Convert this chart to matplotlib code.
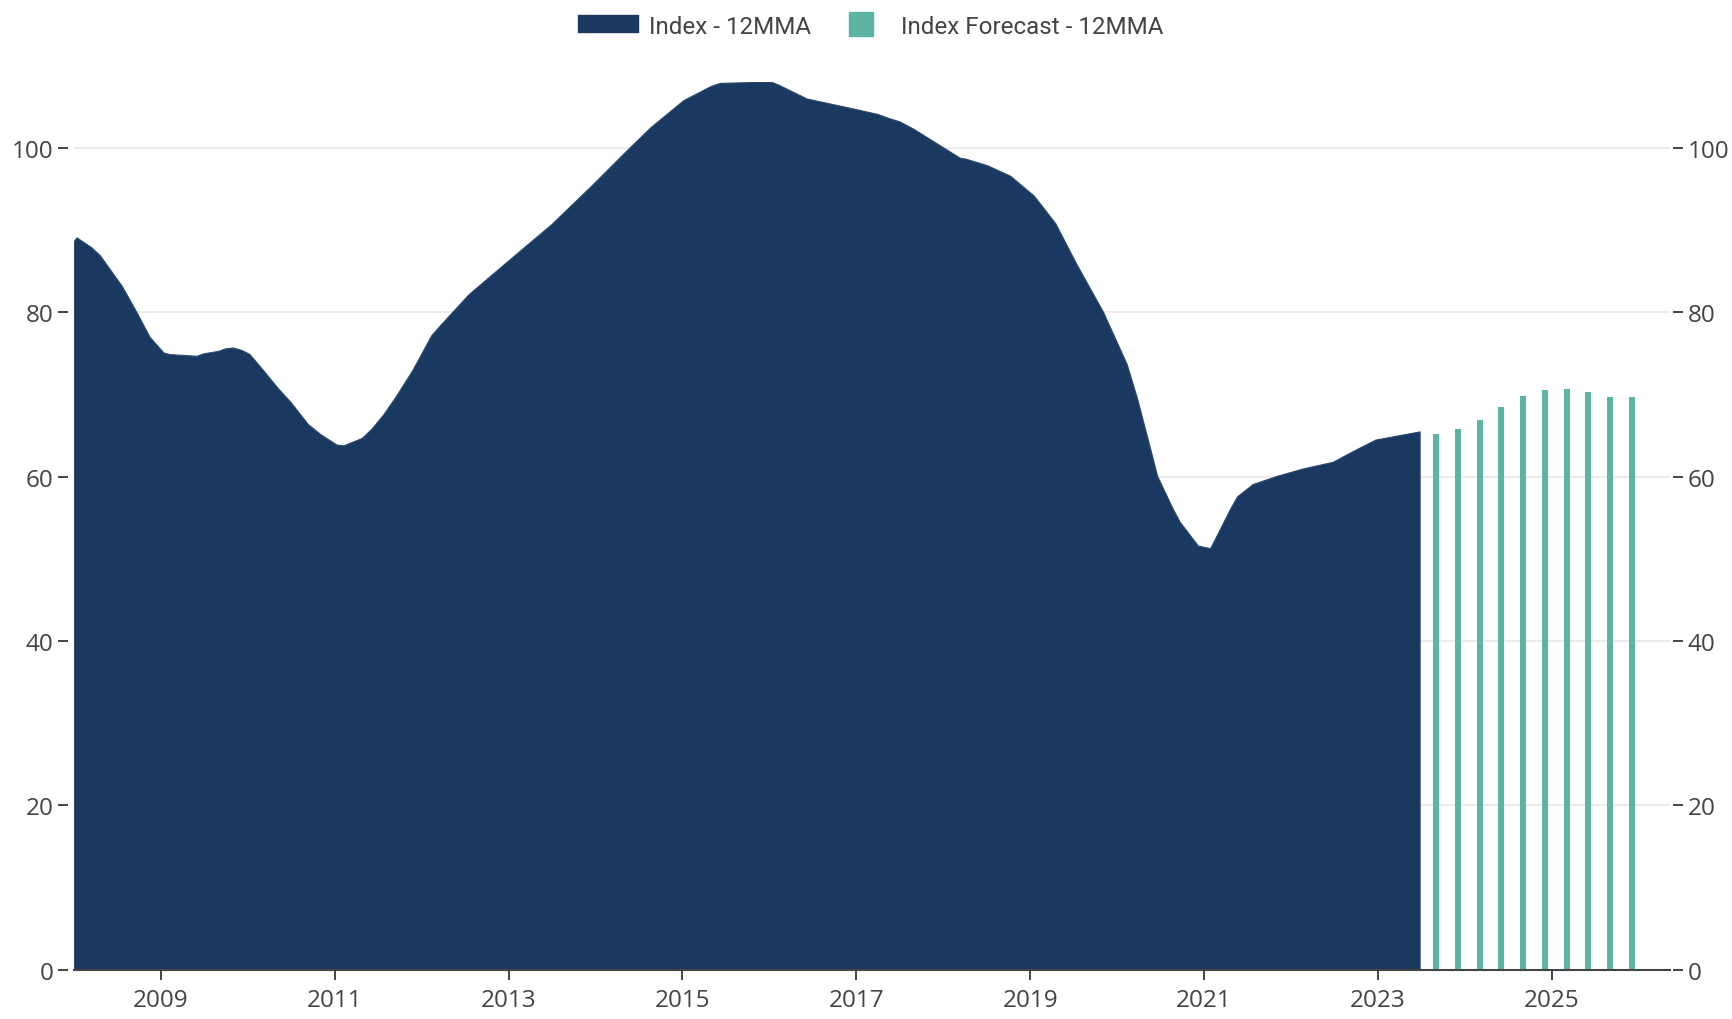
import numpy as np
import matplotlib.pyplot as plt
from matplotlib.patches import Rectangle

# 12-month moving average of the index (decimal years)
index_years = [
    2008.00, 2008.03, 2008.20, 2008.30, 2008.55, 2008.72, 2008.87, 2009.03,
    2009.10, 2009.41, 2009.49, 2009.66, 2009.74, 2009.83, 2009.93, 2010.02,
    2010.18, 2010.35, 2010.49, 2010.69, 2010.83, 2011.02, 2011.10, 2011.31,
    2011.42, 2011.56, 2011.71, 2011.90, 2012.11, 2012.21, 2012.54, 2013.13,
    2013.49, 2013.97, 2014.32, 2014.63, 2015.01, 2015.32, 2015.43, 2015.78,
    2016.03, 2016.10, 2016.43, 2017.00, 2017.25, 2017.35, 2017.50, 2017.66,
    2018.19, 2018.25, 2018.50, 2018.77, 2019.04, 2019.13, 2019.29, 2019.53,
    2019.84, 2019.96, 2020.11, 2020.23, 2020.38, 2020.46, 2020.63, 2020.72,
    2020.93, 2021.07, 2021.10, 2021.30, 2021.38, 2021.56, 2021.84, 2022.14,
    2022.48, 2022.71, 2022.97, 2023.48,
]
index_values = [
    88.7, 89.1, 87.9, 86.9, 83.2, 80.0, 77.0, 75.1,
    74.9, 74.7, 75.0, 75.3, 75.6, 75.7, 75.4, 74.9,
    72.9, 70.7, 69.1, 66.4, 65.2, 63.9, 63.8, 64.7,
    65.8, 67.6, 69.9, 73.1, 77.2, 78.4, 82.2, 87.5,
    90.7, 95.6, 99.3, 102.5, 105.8, 107.5, 107.9, 108.0,
    108.0, 107.7, 106.0, 104.7, 104.1, 103.7, 103.2, 102.3,
    98.8, 98.7, 97.9, 96.6, 94.2, 93.0, 90.8, 85.9,
    80.0, 77.2, 73.7, 69.5, 63.4, 60.1, 56.3, 54.5,
    51.6, 51.3, 51.9, 56.1, 57.6, 59.1, 60.1, 61.0,
    61.8, 63.1, 64.5, 65.5,
]

# quarterly forecast
forecast_years = [2023.67, 2023.92, 2024.17, 2024.42, 2024.67,
                  2024.92, 2025.17, 2025.42, 2025.67, 2025.92]
forecast_values = [65.2, 65.8, 66.9, 68.5, 69.8, 70.5, 70.7, 70.3, 69.7, 69.7]

year_ticks = [2009, 2011, 2013, 2015, 2017, 2019, 2021, 2023, 2025]
value_ticks = [0, 20, 40, 60, 80, 100]

navy = '#1a3961'
teal = '#5bb5a2'
text_grey = '#444444'

plt.rcParams['font.family'] = ['Open Sans', 'DejaVu Sans']
legend_family = ['Roboto', 'DejaVu Sans']

fig = plt.figure(figsize=(17.32, 10.2), dpi=100)
ax = fig.add_axes([0.0427, 0.0483, 0.9215, 0.9025])

ax.fill_between(index_years, 0, index_values, color=navy, lw=0.8,
                edgecolor='#2c4a70', zorder=3)
ax.bar(forecast_years, forecast_values, width=0.07, color=teal, zorder=3)

ax.set_xlim(2008.0, 2026.36)
ax.set_ylim(0, 112)
ax.set_xticks(year_ticks)
ax.set_xticklabels([str(y) for y in year_ticks])
ax.set_yticks(value_ticks)

ax.grid(axis='y', color='#ebebeb', lw=1.4, zorder=0)
ax.set_axisbelow(True)

for side in ['top', 'left', 'right']:
    ax.spines[side].set_visible(False)
# y ticks sit a few pixels off the plot edge
ax.spines['left'].set_position(('outward', 4))
ax.spines['right'].set_position(('outward', 2.2))
ax.spines['bottom'].set_color(text_grey)
ax.spines['bottom'].set_linewidth(1.5)
ax.spines['bottom'].set_zorder(4)

ax.tick_params(axis='x', length=7.2, width=1.4, color=text_grey, pad=6,
               labelsize=17.5, labelcolor=text_grey)
ax.tick_params(axis='y', length=7.2, width=1.4, color=text_grey, pad=3.5,
               labelsize=17.5, labelcolor=text_grey,
               left=True, right=True, labelleft=True, labelright=True)

# legend row above the plot
fig.add_artist(Rectangle((0.3337, 0.968), 0.0346, 0.0164,
                         transform=fig.transFigure, color=navy))
fig.text(0.3747, 0.9664, 'Index - 12MMA', fontsize=17.4,
         color=text_grey, va='baseline', ha='left', family=legend_family)
fig.add_artist(Rectangle((0.4902, 0.964), 0.01386, 0.0229,
                         transform=fig.transFigure, color=teal))
fig.text(0.5202, 0.9664, 'Index Forecast - 12MMA', fontsize=17.4,
         color=text_grey, va='baseline', ha='left', family=legend_family)

fig.savefig('out.png', dpi=100, facecolor='white')
